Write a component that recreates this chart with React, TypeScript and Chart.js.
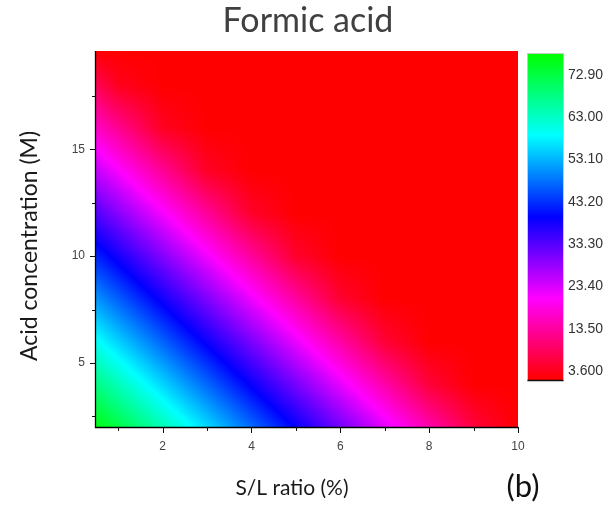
import React, { useEffect, useRef } from 'react';
import { Chart, registerables } from 'chart.js';

Chart.register(...registerables);

// ---- data ----
const slRatio = [0.5, 1, 2, 3, 4, 5, 6, 7, 8, 9, 10];
const acidConc = [2, 4, 6, 8, 10, 12, 14, 16, 18, 19.6];
// one row per acid concentration, one column per S/L ratio
const row2 = [76.6, 72.5, 64.2, 55.9, 47.6, 39.3, 31.0, 22.7, 14.4, 6.1, 1.5];
const row4 = [68.0, 63.9, 55.6, 47.3, 39.0, 30.7, 22.4, 14.1, 5.8, 1.5, 1.5];
const row6 = [59.4, 55.3, 47.0, 38.7, 30.4, 22.1, 13.8, 5.5, 1.5, 1.5, 1.5];
const row8 = [50.8, 46.7, 38.4, 30.1, 21.8, 13.5, 5.2, 1.5, 1.5, 1.5, 1.5];
const row10 = [42.2, 38.1, 29.8, 21.5, 13.2, 4.9, 1.5, 1.5, 1.5, 1.5, 1.5];
const row12 = [33.6, 29.5, 21.2, 12.9, 4.6, 1.5, 1.5, 1.5, 1.5, 1.5, 1.5];
const row14 = [25.0, 20.9, 12.6, 4.3, 1.5, 1.5, 1.5, 1.5, 1.5, 1.5, 1.5];
const row16 = [16.4, 12.3, 4.0, 1.5, 1.5, 1.5, 1.5, 1.5, 1.5, 1.5, 1.5];
const row18 = [7.8, 3.7, 1.5, 1.5, 1.5, 1.5, 1.5, 1.5, 1.5, 1.5, 1.5];
const row19 = [1.5, 1.5, 1.5, 1.5, 1.5, 1.5, 1.5, 1.5, 1.5, 1.5, 1.5];
const valueRows = [row2, row4, row6, row8, row10, row12, row14, row16, row18, row19];

const xMajorTicks = [2, 4, 6, 8, 10];
const xMinorTicks = [1, 3, 5, 7, 9];
const yMajorTicks = [5, 10, 15];
const yMinorTicks = [2.5, 7.5, 12.5, 17.5];
const colorbarTicks = [3.6, 13.5, 23.4, 33.3, 43.2, 53.1, 63.0, 72.9];
const colorbarLabels = ['3.600', '13.50', '23.40', '33.30', '43.20', '53.10', '63.00', '72.90'];
const colorMin = 1.5;
const colorMax = 77.8;

const titleText = 'Formic acid';
const xTitle = 'S/L ratio (%)';
const yTitle = 'Acid concentration (M)';
const panelLabel = '(b)';

// ---- helpers ----
function clamp(v: number, a: number, b: number) {
  return Math.min(b, Math.max(a, v));
}

function valueColor(v: number): [number, number, number] {
  const t = clamp((v - colorMin) / (colorMax - colorMin), 0, 1);
  const h = 360 - 240 * t;
  if (h <= 180) return [0, 255, Math.round(((h - 120) / 60) * 255)];
  if (h <= 240) return [0, Math.round(((240 - h) / 60) * 255), 255];
  if (h <= 300) return [Math.round(((h - 240) / 60) * 255), 0, 255];
  return [255, 0, Math.round(((360 - h) / 60) * 255)];
}

function sampleGrid(xv: number, yv: number) {
  let i = 0;
  while (i < slRatio.length - 2 && xv > slRatio[i + 1]) i++;
  let j = 0;
  while (j < acidConc.length - 2 && yv > acidConc[j + 1]) j++;
  const fx = clamp((xv - slRatio[i]) / (slRatio[i + 1] - slRatio[i]), 0, 1);
  const fy = clamp((yv - acidConc[j]) / (acidConc[j + 1] - acidConc[j]), 0, 1);
  const v00 = valueRows[j][i];
  const v10 = valueRows[j][i + 1];
  const v01 = valueRows[j + 1][i];
  const v11 = valueRows[j + 1][i + 1];
  return v00 * (1 - fx) * (1 - fy) + v10 * fx * (1 - fy) + v01 * (1 - fx) * fy + v11 * fx * fy;
}

const heatmapPlugin = {
  id: 'heatmap',
  beforeDatasetsDraw(chart: any) {
    const { ctx, chartArea: a, scales } = chart;
    const xs = scales.x;
    const ys = scales.y;
    const L = Math.round(a.left);
    const T = Math.round(a.top);
    const W = Math.round(a.right) - L;
    const H = Math.round(a.bottom) - T;
    const off = document.createElement('canvas');
    off.width = W;
    off.height = H;
    const octx = off.getContext('2d')!;
    const img = octx.createImageData(W, H);
    for (let r = 0; r < H; r++) {
      const yv = ys.getValueForPixel(T + r + 0.5);
      for (let c = 0; c < W; c++) {
        const xv = xs.getValueForPixel(L + c + 0.5);
        const [R, G, B] = valueColor(sampleGrid(xv, yv));
        const k = (r * W + c) * 4;
        img.data[k] = R;
        img.data[k + 1] = G;
        img.data[k + 2] = B;
        img.data[k + 3] = 255;
      }
    }
    octx.putImageData(img, 0, 0);
    ctx.save();
    ctx.drawImage(off, L, T);
    ctx.restore();
  },
};

const decorPlugin = {
  id: 'decor',
  afterDraw(chart: any) {
    const { ctx, chartArea: a, scales } = chart;
    const xs = scales.x;
    const ys = scales.y;
    const cb = scales.cb;
    const L = Math.round(a.left);
    const T = Math.round(a.top);
    const R = Math.round(a.right);
    const B = Math.round(a.bottom);
    ctx.save();
    // axes lines
    ctx.strokeStyle = '#000';
    ctx.lineWidth = 1.3;
    ctx.beginPath();
    ctx.moveTo(L - 0.5, T);
    ctx.lineTo(L - 0.5, B + 0.5);
    ctx.lineTo(R + 0.5, B + 0.5);
    ctx.stroke();
    // tick marks
    ctx.lineWidth = 1;
    ctx.strokeStyle = '#111';
    ctx.beginPath();
    xMajorTicks.forEach((v) => {
      const p = Math.round(xs.getPixelForValue(v)) + 0.5;
      ctx.moveTo(p, B);
      ctx.lineTo(p, B + 6);
    });
    xMinorTicks.forEach((v) => {
      const p = Math.round(xs.getPixelForValue(v)) + 0.5;
      ctx.moveTo(p, B);
      ctx.lineTo(p, B + 4);
    });
    yMajorTicks.forEach((v) => {
      const p = Math.round(ys.getPixelForValue(v)) + 0.5;
      ctx.moveTo(L, p);
      ctx.lineTo(L - 6, p);
    });
    yMinorTicks.forEach((v) => {
      const p = Math.round(ys.getPixelForValue(v)) + 0.5;
      ctx.moveTo(L, p);
      ctx.lineTo(L - 4, p);
    });
    ctx.stroke();

    // colour bar
    const cx = R + 10;
    const cw = 35;
    const cTop = Math.round(cb.getPixelForValue(colorMax));
    const cBot = Math.round(cb.getPixelForValue(colorMin));
    for (let y = cTop; y < cBot; y++) {
      const [r, g, b] = valueColor(cb.getValueForPixel(y + 0.5));
      ctx.fillStyle = `rgb(${r},${g},${b})`;
      ctx.fillRect(cx, y, cw, 1);
    }
    ctx.strokeStyle = '#c8c8c8';
    ctx.lineWidth = 1;
    ctx.strokeRect(cx - 0.5, cTop - 0.5, cw + 1, cBot - cTop + 1);
    ctx.strokeStyle = '#111';
    ctx.lineWidth = 1.5;
    ctx.beginPath();
    ctx.moveTo(cx - 0.5, cBot + 0.5);
    ctx.lineTo(cx + cw + 0.5, cBot + 0.5);
    ctx.stroke();

    // titles
    ctx.textAlign = 'center';
    ctx.textBaseline = 'alphabetic';
    ctx.fillStyle = '#404040';
    ctx.font = '34px Lato, "Open Sans", sans-serif';
    ctx.fillText(titleText, 308, 32);

    ctx.fillStyle = '#1a1a1a';
    ctx.font = '21px Lato, "Open Sans", sans-serif';
    ctx.fillText(xTitle, 292, 495);

    ctx.fillStyle = '#111';
    ctx.font = '31px Lato, "Open Sans", sans-serif';
    ctx.fillText(panelLabel, 523, 497);

    ctx.save();
    ctx.translate(37, 246);
    ctx.rotate(-Math.PI / 2);
    ctx.fillStyle = '#1a1a1a';
    ctx.font = '23px Lato, "Open Sans", sans-serif';
    ctx.fillText(yTitle, 0, 0);
    ctx.restore();

    ctx.restore();
  },
};

export default function App() {
  const canvasRef = useRef<HTMLCanvasElement | null>(null);

  useEffect(() => {
    const canvas = canvasRef.current;
    if (!canvas) return;
    const tickFont = { family: '"Liberation Sans", Arial, sans-serif', size: 12 };
    const chart = new Chart(canvas, {
      type: 'scatter',
      data: { datasets: [] },
      plugins: [heatmapPlugin, decorPlugin],
      options: {
        animation: false,
        responsive: false,
        devicePixelRatio: 1,
        layout: { padding: { top: 51, left: 0, right: 0, bottom: 0 } },
        plugins: {
          legend: { display: false },
          tooltip: { enabled: false },
          title: { display: false },
        },
        scales: {
          x: {
            type: 'linear',
            min: 0.5,
            max: 10,
            afterBuildTicks: (s: any) => {
              s.ticks = xMajorTicks.map((v) => ({ value: v }));
            },
            afterFit: (s: any) => {
              s.height = 79;
              s.paddingLeft = 0;
              s.paddingRight = 0;
            },
            ticks: {
              font: tickFont,
              color: '#444',
              padding: 12,
              maxRotation: 0,
              autoSkip: false,
            },
            grid: { display: false, drawTicks: false },
            border: { display: false },
          },
          y: {
            type: 'linear',
            min: 2,
            max: 19.6,
            afterBuildTicks: (s: any) => {
              s.ticks = yMajorTicks.map((v) => ({ value: v }));
            },
            afterFit: (s: any) => {
              s.width = 96;
              s.paddingTop = 0;
              s.paddingBottom = 0;
            },
            ticks: {
              font: tickFont,
              color: '#444',
              padding: 11,
              autoSkip: false,
            },
            grid: { display: false, drawTicks: false },
            border: { display: false },
          },
          cb: {
            type: 'linear',
            position: 'right',
            min: -9.5,
            max: 78.5,
            afterBuildTicks: (s: any) => {
              s.ticks = colorbarTicks.map((v) => ({ value: v }));
            },
            afterFit: (s: any) => {
              s.width = 93;
              s.paddingTop = 0;
              s.paddingBottom = 0;
            },
            ticks: {
              font: { family: '"Liberation Sans", Arial, sans-serif', size: 14 },
              color: '#333',
              padding: 50,
              autoSkip: false,
              callback: (_v: any, i: number) => colorbarLabels[i],
            },
            grid: { display: false, drawTicks: false },
            border: { display: false },
          },
        },
      } as any,
    });
    return () => chart.destroy();
  }, []);

  return (
    <div style={{ position: 'absolute', left: 0, top: 0, width: 611, height: 506, background: '#fff' }}>
      <canvas ref={canvasRef} width={611} height={506} style={{ display: 'block' }} />
    </div>
  );
}
